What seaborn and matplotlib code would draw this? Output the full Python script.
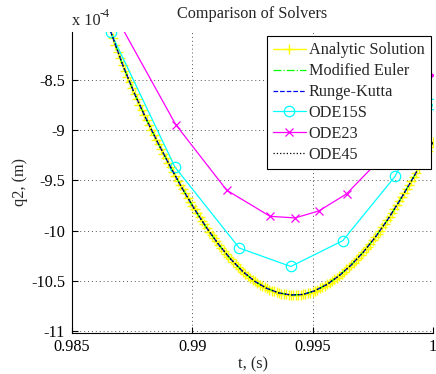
import numpy as np
import pandas as pd
import matplotlib
matplotlib.use("Agg")
import matplotlib.pyplot as plt
from matplotlib.ticker import FuncFormatter
import seaborn as sns

# ---------------- data (q2 in units of 1e-4 m) ----------------
analytic_t = np.round(np.linspace(0.9866, 1.0, 135), 4)
analytic_q2 = [
    -8.010, -8.081, -8.150, -8.217, -8.282, -8.345, -8.406, -8.465, -8.523, -8.580,
    -8.636, -8.690, -8.743, -8.795, -8.845, -8.896, -8.946, -8.995, -9.044, -9.092,
    -9.139, -9.186, -9.233, -9.279, -9.324, -9.369, -9.414, -9.458, -9.501, -9.544,
    -9.587, -9.629, -9.670, -9.710, -9.750, -9.789, -9.827, -9.865, -9.902, -9.938,
    -9.974, -10.009, -10.043, -10.076, -10.108, -10.140, -10.170, -10.200, -10.229, -10.258,
    -10.285, -10.311, -10.337, -10.362, -10.386, -10.408, -10.430, -10.451, -10.470, -10.489,
    -10.506, -10.522, -10.537, -10.551, -10.564, -10.576, -10.587, -10.597, -10.606, -10.614,
    -10.621, -10.627, -10.632, -10.636, -10.639, -10.641, -10.643, -10.643, -10.642, -10.639,
    -10.636, -10.631, -10.625, -10.617, -10.608, -10.598, -10.587, -10.576, -10.563, -10.549,
    -10.535, -10.519, -10.503, -10.485, -10.468, -10.449, -10.429, -10.408, -10.387, -10.365,
    -10.342, -10.318, -10.294, -10.268, -10.242, -10.215, -10.187, -10.158, -10.128, -10.098,
    -10.066, -10.034, -10.000, -9.966, -9.931, -9.896, -9.859, -9.823, -9.785, -9.746,
    -9.707, -9.668, -9.627, -9.587, -9.546, -9.505, -9.463, -9.421, -9.378, -9.336,
    -9.293, -9.249, -9.206, -9.163, -9.119,
]

numeric_t = [0.9866, 0.9871, 0.9876, 0.9881, 0.9886, 0.9891, 0.9896, 0.9901, 0.9906, 0.9911,
             0.9916, 0.9921, 0.9926, 0.9931, 0.9936, 0.9941, 0.9946, 0.9951, 0.9956, 0.9961,
             0.9966, 0.9971, 0.9976, 0.9981, 0.9986, 0.9991, 0.9996, 1.0000]
euler_q2 = [-8.010, -8.345, -8.636, -8.896, -9.139, -9.369, -9.587, -9.789, -9.974, -10.140,
            -10.285, -10.408, -10.506, -10.576, -10.621, -10.641, -10.636, -10.598, -10.535, -10.449,
            -10.342, -10.215, -10.066, -9.896, -9.707, -9.505, -9.293, -9.119]
rk_q2 = list(euler_q2)
ode45_q2 = list(euler_q2)

ode15s_t = [0.9866, 0.98928, 0.99195, 0.99409, 0.99625, 0.99842, 1.0000]
ode15s_q2 = [-8.020, -9.367, -10.173, -10.357, -10.100, -9.460, -8.740]

ode23_t = [0.9866, 0.98931, 0.99143, 0.99323, 0.99427, 0.99526, 0.99641, 0.99790, 1.0000]
ode23_q2 = [-7.770, -8.943, -9.597, -9.857, -9.873, -9.803, -9.633, -9.264, -8.450]

x_ticks = [0.985, 0.99, 0.995, 1.0]
y_ticks = [-11, -10.5, -10, -9.5, -9, -8.5]

# ---------------- style ----------------
sns.set_style("white")
plt.rcParams["font.family"] = ["Liberation Serif", "DejaVu Serif"]
plt.rcParams["axes.unicode_minus"] = False
FS = 11.7

fig = plt.figure(figsize=(4.36, 3.74), dpi=100)
ax = fig.add_axes([72 / 436, 1 - 333 / 374, 361 / 436, 301 / 374])

def line(x, y, color, ls, label, marker=None, ms=6, mew=0.8, mfc=None, lw=0.9, clip=True, z=2):
    kws = dict(color=color, linestyle=ls, linewidth=lw, label=label, ax=ax,
               estimator=None, errorbar=None, sort=False, zorder=z)
    if marker is not None:
        kws.update(marker=marker, markersize=ms, markeredgewidth=mew,
                   markeredgecolor=color,
                   markerfacecolor=(mfc if mfc is not None else color))
    sns.lineplot(x=x, y=y, **kws)
    ax.get_lines()[-1].set_clip_on(clip)

line(analytic_t, analytic_q2, "#FFFF00", "-", "Analytic Solution", marker="+", ms=7.5, mew=1.0, lw=1.0, z=2)
line(numeric_t, euler_q2, "#00FF00", "-.", "Modified Euler", lw=0.9, z=3)
line(numeric_t, rk_q2, "#0000FF", "--", "Runge-Kutta", lw=0.9, z=4)
line(ode15s_t, ode15s_q2, "#00FFFF", "-", "ODE15S", marker="o", ms=7.5, mew=0.9, mfc="none", lw=0.9, z=3)
line(ode23_t, ode23_q2, "#FF00FF", "-", "ODE23", marker="x", ms=6, mew=0.9, lw=0.9, z=3)
line(numeric_t, ode45_q2, "#000000", ":", "ODE45", lw=0.9, z=5)

ax.set_xlim(0.985, 1.0)
ax.set_ylim(-11.02, -8.02)
ax.set_xticks(x_ticks)
ax.set_yticks(y_ticks)
fmt = FuncFormatter(lambda v, p: "%g" % v)
ax.xaxis.set_major_formatter(fmt)
ax.yaxis.set_major_formatter(fmt)
ax.tick_params(direction="in", length=4, width=0.8, labelsize=FS,
               colors="black", left=True, bottom=True)
ax.tick_params(axis="x", pad=4)
ax.tick_params(axis="y", pad=5)
for s in ["top", "right"]:
    ax.spines[s].set_visible(False)
for s in ["left", "bottom"]:
    ax.spines[s].set_color("black")
    ax.spines[s].set_linewidth(0.8)
ax.grid(True, color="#555555", linestyle=(0, (1, 3)), linewidth=0.7)
ax.set_axisbelow(True)

ax.set_title("Comparison of Solvers", fontsize=FS, pad=10)
ax.set_xlabel("t, (s)", fontsize=FS, labelpad=1)
ax.set_ylabel("q2, (m)", fontsize=FS, labelpad=2)
fig.text(72 / 436, 1 - 25 / 374, "x 10", fontsize=FS, ha="left", va="baseline")
fig.text(100 / 436, 1 - 17 / 374, "-4", fontsize=FS * 0.75, ha="left", va="baseline")

leg = ax.legend(loc="upper right", bbox_to_anchor=(431 / 436, 1 - 36 / 374),
                bbox_transform=fig.transFigure, fontsize=FS, frameon=True,
                fancybox=False, framealpha=1, edgecolor="black", borderaxespad=0,
                handlelength=2.0, handletextpad=0.2, labelspacing=0.3,
                borderpad=0.4, numpoints=1)
leg.get_frame().set_linewidth(0.8)

fig.savefig("out.png", dpi=100)
